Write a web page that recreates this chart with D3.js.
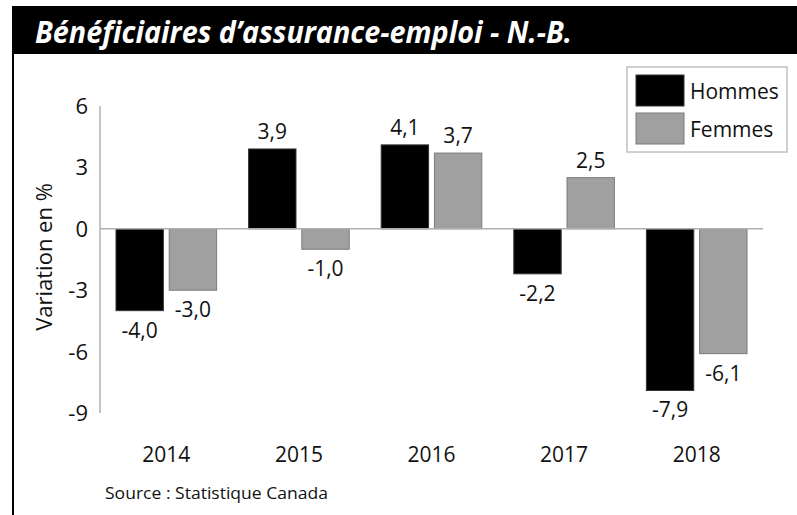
<!DOCTYPE html>
<html>
<head>
<meta charset="utf-8">
<script src="https://cdn.jsdelivr.net/npm/d3@7"></script>
<style>
  body { margin: 0; background: #fff; }
  text { font-family: "Open Sans", sans-serif; fill: #111; }
</style>
</head>
<body>
<script>
// data
var years = ["2014", "2015", "2016", "2017", "2018"];
var series = ["Hommes", "Femmes"];
var hommes = [-4.0, 3.9, 4.1, -2.2, -7.9];
var femmes = [-3.0, -1.0, 3.7, 2.5, -6.1];
var yTicks = [6, 3, 0, -3, -6, -9];

var colors = { Hommes: "#000000", Femmes: "#a0a0a0" };
var strokes = { Hommes: "#333333", Femmes: "#7a7a7a" };

var W = 797, H = 515;
var fr = d3.formatLocale({decimal: ",", thousands: " ", grouping: [3], currency: ["", " $"], minus: "-"});
var fmt = fr.format(".1f");

var rows = years.map(function(y, i) {
  return { year: y, Hommes: hommes[i], Femmes: femmes[i] };
});

var svg = d3.select("body").append("svg")
  .attr("width", W)
  .attr("height", H);

// title banner
svg.append("rect")
  .attr("x", 12).attr("y", 6)
  .attr("width", W - 12).attr("height", 48)
  .style("fill", "#000");

svg.append("text")
  .attr("x", 35).attr("y", 43)
  .text("Bénéficiaires d’assurance-emploi - N.-B.")
  .attr("font-size", "30px")
  .attr("font-weight", "700")
  .attr("font-style", "italic")
  .attr("textLength", 537)
  .attr("lengthAdjust", "spacingAndGlyphs")
  .style("fill", "#fff");

// left border line
svg.append("line")
  .attr("x1", 13).attr("x2", 13)
  .attr("y1", 54).attr("y2", H)
  .style("stroke", "#000")
  .style("stroke-width", 2);

var x0 = d3.scaleBand().domain(years).range([100, 763]);
var x1 = d3.scaleBand().domain(series).range([16, x0.bandwidth() - 16]).paddingInner(0.11);
var y = d3.scaleLinear().domain([-9, 6]).range([413, 106]);

// y axis
svg.append("line")
  .attr("x1", 100).attr("x2", 100)
  .attr("y1", y(6)).attr("y2", y(-9))
  .style("stroke", "#b0b0b0")
  .style("stroke-width", 1.5);

svg.selectAll(".ytick")
  .data(yTicks)
  .enter()
  .append("text")
  .attr("class", "ytick")
  .attr("x", 88)
  .attr("y", function(d) { return y(d) + 8; })
  .attr("text-anchor", "end")
  .attr("font-size", "22px")
  .text(function(d) { return d; });

svg.append("text")
  .attr("transform", "translate(52,257) rotate(-90)")
  .attr("text-anchor", "middle")
  .attr("font-size", "22px")
  .text("Variation en %");

// bars
var groups = svg.selectAll(".year")
  .data(rows)
  .enter()
  .append("g")
  .attr("class", "year")
  .attr("transform", function(d) { return "translate(" + x0(d.year) + ",0)"; });

var cells = groups.selectAll(".bar")
  .data(function(d) { return series.map(function(s) { return { s: s, v: d[s] }; }); })
  .enter();

cells.append("rect")
  .attr("class", "bar")
  .attr("x", function(d) { return x1(d.s); })
  .attr("y", function(d) { return y(Math.max(0, d.v)); })
  .attr("width", x1.bandwidth())
  .attr("height", function(d) { return Math.abs(y(d.v) - y(0)); })
  .style("fill", function(d) { return colors[d.s]; })
  .style("stroke", function(d) { return strokes[d.s]; })
  .style("stroke-width", 1);

cells.append("text")
  .attr("x", function(d) { return x1(d.s) + x1.bandwidth() / 2; })
  .attr("y", function(d) { return d.v < 0 ? y(d.v) + 27 : y(d.v) - 10; })
  .attr("text-anchor", "middle")
  .attr("font-size", "21px")
  .text(function(d) { return fmt(d.v); });

// zero line (drawn over bars)
svg.append("line")
  .attr("x1", 100).attr("x2", 763)
  .attr("y1", y(0)).attr("y2", y(0))
  .style("stroke", "#b0b0b0")
  .style("stroke-width", 1.5);

// year labels
svg.selectAll(".xlab")
  .data(years)
  .enter()
  .append("text")
  .attr("class", "xlab")
  .attr("x", function(d) { return x0(d) + x0.bandwidth() / 2; })
  .attr("y", 462)
  .attr("text-anchor", "middle")
  .attr("font-size", "21px")
  .text(function(d) { return d; });

svg.append("text")
  .attr("x", 105).attr("y", 499)
  .attr("font-size", "17px")
  .attr("textLength", 223)
  .attr("lengthAdjust", "spacingAndGlyphs")
  .text("Source : Statistique Canada");

// legend
var legend = svg.append("g").attr("transform", "translate(627,67)");
legend.append("rect")
  .attr("x", 0).attr("y", 0)
  .attr("width", 160).attr("height", 85)
  .style("fill", "#fff")
  .style("stroke", "#c0c0c0")
  .style("stroke-width", 1.5);

series.forEach(function(s, i) {
  legend.append("rect")
    .attr("x", 9).attr("y", 8 + i * 38)
    .attr("width", 48).attr("height", 31)
    .style("fill", colors[s])
    .style("stroke", strokes[s]);
  legend.append("text")
    .attr("x", 63).attr("y", 32 + i * 38)
    .attr("font-size", "21px")
    .text(s);
});
</script>
</body>
</html>
